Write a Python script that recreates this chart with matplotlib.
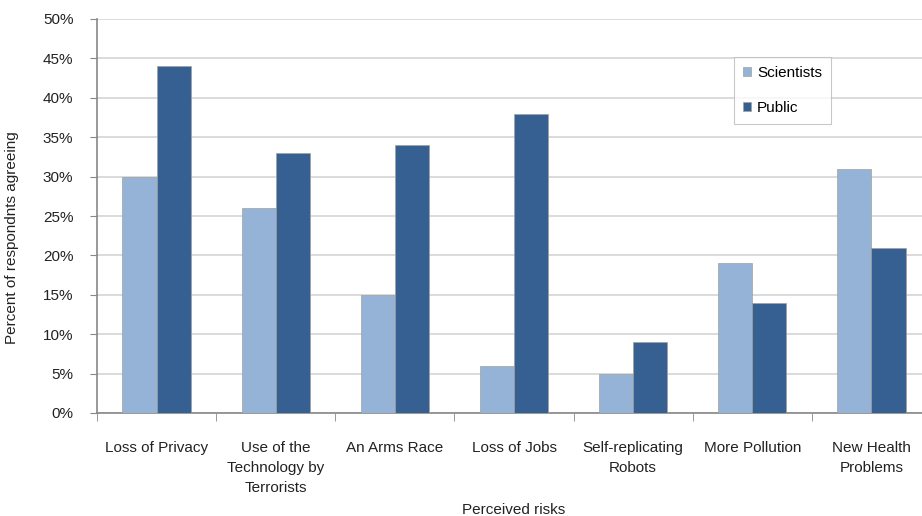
import matplotlib
matplotlib.use("Agg")
import matplotlib.pyplot as plt
import numpy as np

plt.rcParams['font.family'] = ['Liberation Sans', 'DejaVu Sans']
fs = 11
tfs = 11

categories = ["Loss of Privacy", "Use of the\nTechnology by\nTerrorists", "An Arms Race",
              "Loss of Jobs", "Self-replicating\nRobots", "More Pollution", "New Health\nProblems"]
scientists = [30, 26, 15, 6, 5, 19, 31]
public = [44, 33, 34, 38, 9, 14, 21]
yticks = [0, 5, 10, 15, 20, 25, 30, 35, 40, 45, 50]

fig = plt.figure(figsize=(9.22, 5.16), dpi=100)
ax = fig.add_axes([97/922, 1-413/516, 834/922, 394/516])

x = np.arange(len(categories))
w = 0.287
ax.bar(x - w/2, scientists, w, color='#95b3d7', edgecolor='#a0a0a0', linewidth=0.5, label='Scientists', zorder=3)
ax.bar(x + w/2, public, w, color='#366092', edgecolor='#a0a0a0', linewidth=0.5, label='Public', zorder=3)

ax.set_xlim(-0.5, len(categories) - 0.5)
ax.set_ylim(0, 50)
ax.set_yticks(yticks)
ax.set_yticklabels([f"{v}%" for v in yticks], fontsize=tfs, color='#222222')
ax.yaxis.grid(True, color='#d4d4d4', linewidth=1.2, zorder=0)
ax.set_axisbelow(True)

ax.set_xticks(x)
ax.set_xticklabels(categories, fontsize=fs, color='#222222', linespacing=1.55, va='top')
ax.tick_params(axis='x', length=0, pad=20)
ax.set_xticks(np.arange(-0.5, len(categories) + 0.5, 1), minor=True)
ax.tick_params(axis='x', which='minor', length=6, color='#888888', direction='out')
ax.tick_params(axis='y', length=5, color='#888888', pad=12, direction='out')

for s in ['top', 'right']:
    ax.spines[s].set_visible(False)
ax.spines['left'].set_color('#888888')
ax.spines['bottom'].set_color('#888888')
ax.spines['left'].set_linewidth(1.2)
ax.spines['bottom'].set_linewidth(1.2)

ax.set_xlabel("Perceived risks", fontsize=fs, color='#222222', labelpad=6)
ax.set_ylabel("Percent of respondnts agreeing", fontsize=fs, color='#222222')
ax.yaxis.set_label_coords(-0.094, 0.445)

leg = ax.legend(loc='upper left', bbox_to_anchor=((734-97)/834, (413-57)/394),
                frameon=True, fancybox=False, fontsize=fs, handlelength=0.5, handleheight=0.5,
                labelspacing=1.35, borderpad=0.6, handletextpad=0.4, borderaxespad=0)
leg.get_frame().set_edgecolor('#bbbbbb')
leg.get_frame().set_linewidth(0.8)

fig.savefig("out.png", dpi=100)
